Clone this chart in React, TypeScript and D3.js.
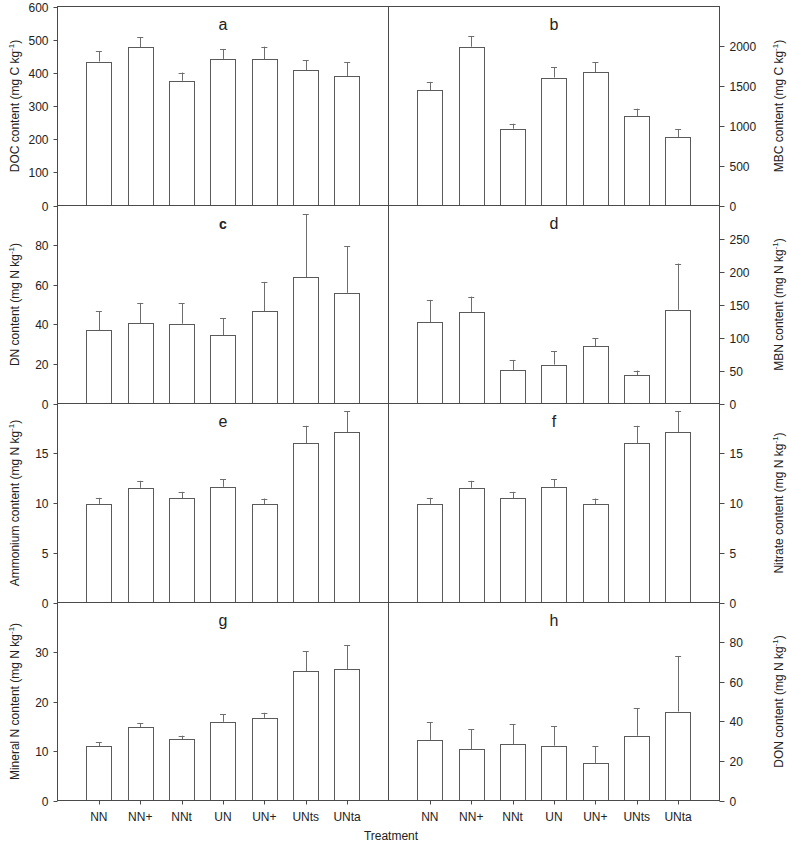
import React from 'react';
import * as d3 from 'd3';

// treatments on the x axis
const treatments = ['NN', 'NN+', 'NNt', 'UN', 'UN+', 'UNts', 'UNta'];

// means and standard errors
const docMean = [434, 477, 376, 442, 441, 408, 390];
const docSe = [31, 30, 25, 30, 38, 30, 42];
const mbcMean = [1449, 1995, 964, 1608, 1671, 1124, 859];
const mbcSe = [104, 135, 63, 126, 126, 92, 97];
const dnMean = [36.9, 40.6, 40.3, 34.4, 46.5, 63.9, 55.9];
const dnSe = [9.6, 10.2, 10.4, 8.7, 14.9, 31.7, 23.6];
const mbnMean = [123, 138, 51, 59, 86.5, 43, 142];
const mbnSe = [34, 24, 15, 20, 12.5, 7, 70];
const ammMean = [9.91, 11.53, 10.48, 11.63, 9.88, 15.98, 17.09];
const ammSe = [0.61, 0.7, 0.64, 0.77, 0.57, 1.78, 2.12];
const nitMean = [9.91, 11.53, 10.48, 11.63, 9.88, 15.98, 17.09];
const nitSe = [0.61, 0.7, 0.64, 0.77, 0.57, 1.78, 2.12];
const minMean = [11.0, 14.77, 12.42, 15.9, 16.7, 26.1, 26.58];
const minSe = [0.8, 0.8, 0.67, 1.48, 1.02, 4.1, 4.82];
const donMean = [30.6, 25.9, 28.4, 27.7, 19.0, 32.7, 44.9];
const donSe = [9, 10, 10, 9.7, 8.5, 14, 28.1];

// tick values per panel
const docTicks = [0, 100, 200, 300, 400, 500, 600];
const mbcTicks = [0, 500, 1000, 1500, 2000];
const dnTicks = [0, 20, 40, 60, 80];
const mbnTicks = [0, 50, 100, 150, 200, 250];
const ammTicks = [0, 5, 10, 15];
const nitTicks = [0, 5, 10, 15];
const minTicks = [0, 10, 20, 30];
const donTicks = [0, 20, 40, 60, 80];

const panels = [
  { letter: 'a', label: 'DOC content (mg C kg', max: 600, ticks: docTicks, mean: docMean, se: docSe },
  { letter: 'b', label: 'MBC content (mg C kg', max: 2500, ticks: mbcTicks, mean: mbcMean, se: mbcSe },
  { letter: 'c', label: 'DN content (mg N kg', max: 100, ticks: dnTicks, mean: dnMean, se: dnSe },
  { letter: 'd', label: 'MBN content (mg N kg', max: 300, ticks: mbnTicks, mean: mbnMean, se: mbnSe },
  { letter: 'e', label: 'Ammonium content (mg N kg', max: 20, ticks: ammTicks, mean: ammMean, se: ammSe },
  { letter: 'f', label: 'Nitrate content (mg N kg', max: 20, ticks: nitTicks, mean: nitMean, se: nitSe },
  { letter: 'g', label: 'Mineral N content (mg N kg', max: 40, ticks: minTicks, mean: minMean, se: minSe },
  { letter: 'h', label: 'DON content (mg N kg', max: 100, ticks: donTicks, mean: donMean, se: donSe },
];

const W = 787;
const H = 843;
const colX = [57.5, 388.5, 719.5];
const top = 6;
const rowH = 198.5;

const axisColor = '#4a4a4a';
const barColor = '#5a5a5a';
const errColor = '#6e6e6e';
const textColor = '#222';
const font = '"Liberation Sans", Arial, sans-serif';

const Panel = ({ p, i }) => {
  const col = i % 2;
  const row = Math.floor(i / 2);
  const x0 = colX[col];
  const x1 = colX[col + 1];
  const y0 = Math.round(top + row * rowH) + 0.5;
  const y1 = Math.round(top + (row + 1) * rowH) + 0.5;
  const isLeft = col === 0;
  const isBottom = row === 3;

  const x = d3.scalePoint().domain(treatments).range([x0, x1]).padding(1);
  const y = d3.scaleLinear().domain([0, p.max]).range([y1, y0]);
  const barW = x.step() * 0.615;
  const axisX = isLeft ? x0 : x1;
  const labelX = isLeft ? 19 : 783;
  const midY = (y0 + y1) / 2;

  return (
    <g>
      {treatments.map((t, k) => {
        const cx = x(t);
        const yt = y(p.mean[k]);
        const ye = y(p.mean[k] + p.se[k]);
        return (
          <g key={t}>
            <line x1={Math.round(cx) + 0.5} x2={Math.round(cx) + 0.5} y1={yt} y2={ye} stroke={errColor} />
            <line x1={cx - 3} x2={cx + 3} y1={Math.round(ye) + 0.5} y2={Math.round(ye) + 0.5} stroke={errColor} />
            <rect
              x={Math.round(cx - barW / 2) + 0.5}
              y={Math.round(yt) + 0.5}
              width={Math.round(barW)}
              height={y1 - (Math.round(yt) + 0.5)}
              fill="#fff"
              stroke={barColor}
            />
          </g>
        );
      })}
      <rect x={x0} y={y0} width={x1 - x0} height={y1 - y0} fill="none" stroke={axisColor} />
      {p.ticks.map((v) => {
        const ty = Math.round(y(v)) + 0.5;
        return (
          <g key={v}>
            <line x1={axisX} x2={isLeft ? axisX - 4 : axisX + 5} y1={ty} y2={ty} stroke={axisColor} />
            <text
              x={isLeft ? axisX - 9 : axisX + 10}
              y={ty}
              dy="0.35em"
              textAnchor={isLeft ? 'end' : 'start'}
              fontSize={12}
              fill={textColor}
            >
              {v}
            </text>
          </g>
        );
      })}
      <text
        transform={`translate(${labelX},${midY}) rotate(-90)`}
        textAnchor="middle"
        fontSize={12}
        fill={textColor}
      >
        {p.label}
        <tspan fontSize={8} dy={-5}>-1</tspan>
        <tspan dy={5}>)</tspan>
      </text>
      <text
        x={(x0 + x1) / 2}
        y={y0 + 23}
        textAnchor="middle"
        fontSize={p.letter === 'c' ? 14 : 16}
        fontWeight={p.letter === 'c' ? 'bold' : 'normal'}
        fill={textColor}
      >
        {p.letter}
      </text>
      {isBottom &&
        treatments.map((t) => (
          <g key={t}>
            <line x1={Math.round(x(t)) + 0.5} x2={Math.round(x(t)) + 0.5} y1={y1} y2={y1 + 4} stroke={axisColor} />
            <text x={x(t)} y={y1 + 20} textAnchor="middle" fontSize={12} fill={textColor}>
              {t}
            </text>
          </g>
        ))}
    </g>
  );
};

const App = () => {
  return (
    <svg
      width={W}
      height={H}
      style={{ position: 'absolute', left: 0, top: 0, background: '#fff' }}
      fontFamily={font}
    >
      <rect width={W} height={H} fill="#fff" />
      {panels.map((p, i) => (
        <Panel key={p.letter} p={p} i={i} />
      ))}
      <text x={391} y={840} textAnchor="middle" fontSize={12} fill={textColor}>
        Treatment
      </text>
    </svg>
  );
};

export default App;
